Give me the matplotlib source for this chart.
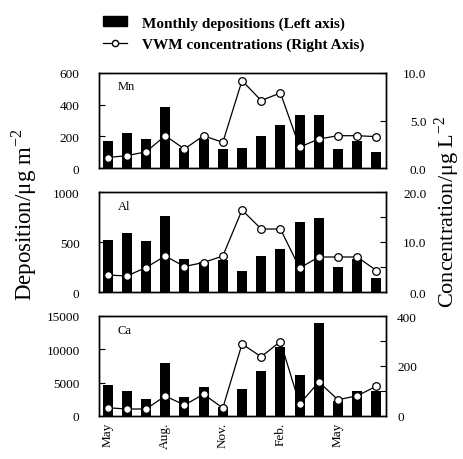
import numpy as np
import matplotlib
matplotlib.use("Agg")
import matplotlib.pyplot as plt
from matplotlib.lines import Line2D
from matplotlib.patches import Patch

plt.rcParams['font.family'] = ['Liberation Serif', 'DejaVu Serif']
plt.rcParams['mathtext.fontset'] = 'custom'
plt.rcParams['mathtext.rm'] = 'Liberation Serif'

# 15 months, May to July of the following year
months = np.arange(15)
tick_pos = [0, 3, 6, 9, 12]
tick_labels = ["May", "Aug.", "Nov.", "Feb.", "May"]

mn_dep = [170, 220, 186, 385, 125, 185, 120, 125, 205, 272, 332, 332, 118, 169, 101]
mn_conc = [1.1, 1.3, 1.7, 3.4, 2.0, 3.4, 2.7, 9.2, 7.1, 7.9, 2.2, 3.05, 3.4, 3.4, 3.3]

al_dep = [520, 590, 510, 765, 330, 305, 325, 215, 360, 430, 700, 740, 255, 335, 145]
al_conc = [3.4, 3.2, 4.9, 7.2, 5.1, 5.9, 7.2, 16.4, 12.6, 12.6, 4.8, 7.0, 7.0, 7.0, 4.3]

ca_dep = [4600, 3800, 2600, 8000, 2800, 4400, 1400, 4000, 6800, 10300, 6200, 13900, 2300, 3800, 3700]
ca_conc = [33, 28, 28, 80, 44, 87, 32, 288, 237, 298, 48, 136, 65, 81, 119]

panels = [
    # name, deposition, concentration, left lim/ticks, right lim/ticks/labels
    ("Mn", mn_dep, mn_conc, 600, [0, 200, 400, 600], 10, [0, 5, 10], ["0.0", "5.0", "10.0"]),
    ("Al", al_dep, al_conc, 1000, [0, 500, 1000], 20, [0, 5, 10, 15, 20], ["0.0", "", "10.0", "", "20.0"]),
    ("Ca", ca_dep, ca_conc, 15000, [0, 5000, 10000, 15000], 400, [0, 100, 200, 300, 400], ["0", "", "200", "", "400"]),
]

W, H = 463, 460
fig = plt.figure(figsize=(W / 100, H / 100), dpi=100)

# pixel boxes (top, bottom) for each panel
boxes = [(74, 169), (193, 293), (317, 417)]
x0, x1 = 99, 386

for i, (name, dep, conc, lmax, lticks, rmax, rticks, rlabels) in enumerate(panels):
    top, bot = boxes[i]
    ax = fig.add_axes([x0 / W, 1 - bot / H, (x1 - x0) / W, (bot - top) / H])
    ax.bar(months, dep, width=0.52, color="black")
    ax.set_xlim(-0.45, 14.5)
    ax.set_ylim(0, lmax)
    ax.set_yticks(lticks)
    ax.tick_params(axis="y", direction="in", labelsize=9.5, length=4, pad=14)
    ax.text(0.065, 0.86, name, transform=ax.transAxes, fontsize=9, va="center")

    ax2 = ax.twinx()
    ax2.plot(months, conc, color="black", lw=0.9, marker="o", ms=5.5,
             mfc="white", mec="black", mew=0.9)
    ax2.set_ylim(0, rmax)
    ax2.set_yticks(rticks)
    ax2.set_yticklabels(rlabels)
    if i < 2:
        # right labels of the upper panels are right-aligned
        ax2.tick_params(axis="y", direction="in", labelsize=9.5, length=4, pad=29)
        for t in ax2.get_yticklabels():
            t.set_horizontalalignment("right")
    else:
        ax2.tick_params(axis="y", direction="in", labelsize=9.5, length=4, pad=8)

    for a in (ax, ax2):
        for s in a.spines.values():
            s.set_linewidth(1.0)

    if i < 2:
        ax.set_xticks([])
    else:
        ax.set_xticks(tick_pos)
        ax.set_xticklabels(tick_labels, rotation=90, fontsize=9.5)
        ax.tick_params(axis="x", length=0, pad=4)

fig.text(24 / W, 1 - 215 / H, "Deposition/μg m$^{-2}$", rotation=90, fontsize=16.5,
         ha="center", va="center")
fig.text(447 / W, 1 - 212 / H, "Concentration/μg L$^{-2}$", rotation=90, fontsize=16,
         ha="center", va="center")

handles = [Patch(facecolor="black", edgecolor="black"),
           Line2D([], [], color="black", lw=0.9, marker="o", ms=4.5, mfc="white")]
leg = fig.legend(handles, ["Monthly depositions (Left axis)", "VWM concentrations (Right Axis)"],
                 loc="upper left", bbox_to_anchor=(89 / W, 1 - 3 / H), frameon=False,
                 fontsize=11, handlelength=1.6, handletextpad=1.0, labelspacing=0.5)
for t in leg.get_texts():
    t.set_fontweight("bold")

fig.savefig("out.png", dpi=100)
